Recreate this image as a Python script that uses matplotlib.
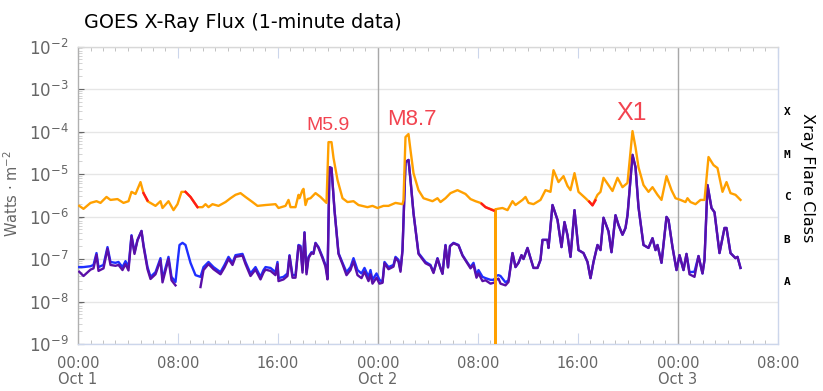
import numpy as np
import matplotlib.pyplot as plt
from matplotlib.ticker import LogLocator, MultipleLocator, NullFormatter

# hours since Oct 1 00:00 UTC, values are log10(W m^-2)
long_hours = [
    0.1, 0.44, 1.0, 1.48, 1.8, 2.28, 2.6, 3.16, 3.64, 4.04,
    4.28, 4.6, 5.0, 5.24, 5.56, 6.2, 6.6, 6.76, 7.24, 7.64,
    7.96, 8.28, 8.6, 9.0, 9.56, 9.96, 10.2, 10.44, 10.76, 11.24,
    11.8, 12.2, 12.6, 13.0, 13.4, 13.96, 14.36, 15.0, 15.8, 16.04,
    16.6, 16.84, 17.0, 17.4, 17.64, 17.72, 17.96, 18.04, 18.2, 18.36,
    18.6, 19.0, 19.4, 19.88, 20.04, 20.28, 20.44, 20.76, 21.16, 21.56,
    22.04, 22.44, 23.16, 23.56, 23.96, 24.44, 24.84, 25.4, 25.96, 26.04,
    26.2, 26.44, 26.6, 26.84, 27.24, 27.64, 28.36, 28.76, 29.0, 29.4,
    29.8, 30.36, 31.0, 31.4, 31.8, 32.2, 32.6, 33.24, 33.38, 33.4,
    33.42, 33.56, 33.96, 34.36, 34.76, 35.0, 35.56, 35.8, 36.04, 36.44,
    37.0, 37.4, 37.8, 38.04, 38.44, 38.84, 39.16, 39.4, 39.72, 40.04,
    40.6, 41.16, 41.56, 41.8, 42.04, 42.44, 42.76, 43.16, 43.56, 43.96,
    44.36, 44.6, 44.84, 45.24, 45.64, 45.96, 46.36, 46.68, 47.08, 47.48,
    47.8, 48.2, 48.6, 48.76, 49.0, 49.4, 49.8, 50.12, 50.44, 50.84,
    51.16, 51.56, 51.88, 52.2, 52.6, 53.0,
]
long_log = [
    -5.75, -5.82, -5.68, -5.64, -5.68, -5.54, -5.61, -5.59, -5.68, -5.64,
    -5.42, -5.47, -5.19, -5.45, -5.64, -5.75, -5.64, -5.80, -5.64, -5.85,
    -5.71, -5.42, -5.42, -5.54, -5.78, -5.78, -5.71, -5.78, -5.71, -5.75,
    -5.66, -5.57, -5.49, -5.45, -5.54, -5.66, -5.75, -5.73, -5.71, -5.80,
    -5.75, -5.61, -5.78, -5.78, -5.49, -5.57, -5.38, -5.35, -5.73, -5.59,
    -5.57, -5.45, -5.54, -5.68, -4.25, -4.25, -4.62, -5.14, -5.57, -5.66,
    -5.64, -5.73, -5.78, -5.75, -5.80, -5.75, -5.75, -5.68, -5.71, -5.61,
    -4.13, -4.06, -4.44, -4.98, -5.38, -5.57, -5.64, -5.57, -5.66, -5.57,
    -5.45, -5.38, -5.47, -5.59, -5.64, -5.68, -5.78, -5.85, -5.84, -11.0,
    -5.83, -5.82, -5.80, -5.85, -5.64, -5.73, -5.61, -5.54, -5.68, -5.71,
    -5.61, -5.38, -5.42, -4.91, -5.19, -5.05, -5.28, -5.38, -4.98, -5.42,
    -5.57, -5.73, -5.49, -5.42, -5.09, -5.26, -5.40, -5.09, -5.31, -5.21,
    -3.99, -4.37, -4.84, -5.26, -5.42, -5.31, -5.49, -5.61, -5.05, -5.38,
    -5.57, -5.61, -5.66, -5.57, -5.66, -5.71, -5.61, -5.61, -4.60, -4.79,
    -4.86, -5.42, -5.19, -5.45, -5.49, -5.61,
]

# secondary long channel, only where it shows (nan = hidden)
red_hours = [5.24, 5.56, np.nan, 8.6, 9.0, 9.56, np.nan, 32.3, 32.6, 33.24, np.nan, 40.9, 41.16, 41.4]
red_log = [-5.45, -5.62, np.nan, -5.42, -5.54, -5.78, np.nan, -5.70, -5.78, -5.86, np.nan, -5.65, -5.74, -5.62]

short_hours = [
    0.1, 0.44, 1.0, 1.24, 1.48, 1.64, 2.04, 2.36, 2.6, 3.0,
    3.24, 3.56, 3.8, 4.04, 4.28, 4.52, 4.76, 5.08, 5.24, 5.56,
    5.8, 6.2, 6.6, 6.76, 7.24, 7.48, 7.8, 7.96, 8.12, 8.36,
    8.6, 9.0, 9.4, 9.8, 10.04, 10.44, 10.84, 11.4, 11.72, 12.04,
    12.36, 12.6, 13.16, 13.4, 13.8, 14.2, 14.6, 14.84, 15.0, 15.4,
    15.8, 15.96, 16.04, 16.44, 16.76, 16.92, 17.16, 17.4, 17.64, 17.8,
    17.96, 18.12, 18.28, 18.44, 18.68, 18.84, 19.0, 19.24, 19.56, 19.8,
    19.96, 20.12, 20.28, 20.52, 20.84, 21.16, 21.48, 21.8, 22.04, 22.36,
    22.68, 22.92, 23.24, 23.4, 23.56, 23.88, 24.12, 24.36, 24.52, 24.84,
    25.24, 25.4, 25.64, 25.8, 25.96, 26.2, 26.44, 26.6, 26.84, 27.24,
    27.8, 28.2, 28.44, 28.76, 29.0, 29.16, 29.4, 29.6, 29.76, 30.04,
    30.44, 30.76, 31.16, 31.4, 31.64, 31.88, 32.04, 32.36, 32.6, 33.0,
    33.24, 33.38, 33.4, 33.42, 33.64, 33.8, 34.2, 34.44, 34.76, 35.0,
    35.24, 35.48, 35.64, 35.96, 36.2, 36.44, 36.76, 37.0, 37.16, 37.56,
    37.64, 37.96, 38.36, 38.68, 38.92, 39.16, 39.4, 39.72, 40.04, 40.44,
    40.76, 41.0, 41.24, 41.56, 41.8, 42.04, 42.44, 42.68, 43.0, 43.24,
    43.56, 43.8, 43.96, 44.36, 44.6, 44.84, 45.24, 45.64, 45.96, 46.2,
    46.36, 46.68, 47.08, 47.24, 47.56, 47.88, 48.12, 48.44, 48.68, 48.92,
    49.32, 49.64, 49.96, 50.12, 50.36, 50.68, 50.92, 51.32, 51.72, 51.88,
    52.2, 52.6, 52.76, 53.0,
]
blue_log = [
    -7.19, -7.19, -7.17, -7.14, -6.86, -7.19, -7.14, -6.72, -7.07, -7.09,
    -7.07, -7.19, -7.05, -7.19, -6.44, -6.84, -6.55, -6.34, -6.67, -7.19,
    -7.42, -7.31, -6.98, -7.47, -6.95, -7.42, -7.54, -7.09, -6.67, -6.62,
    -6.67, -7.09, -7.38, -7.42, -7.19, -7.07, -7.19, -7.31, -7.14, -6.95,
    -7.09, -6.91, -6.88, -7.07, -7.34, -7.19, -7.42, -7.26, -7.19, -7.21,
    -7.31, -7.07, -7.45, -7.42, -7.34, -6.91, -7.38, -7.38, -6.67, -6.69,
    -7.26, -6.37, -7.31, -6.95, -6.84, -6.86, -6.62, -6.72, -6.95, -7.14,
    -7.42, -4.84, -4.86, -5.85, -6.86, -7.09, -7.31, -7.19, -6.98, -7.26,
    -7.34, -7.21, -7.42, -7.26, -7.49, -7.34, -7.49, -7.54, -7.07, -7.19,
    -7.14, -6.95, -7.02, -7.26, -6.79, -4.72, -4.67, -5.14, -5.92, -6.86,
    -7.07, -7.14, -7.31, -6.98, -7.21, -7.34, -6.67, -7.19, -6.69, -6.62,
    -6.67, -6.91, -7.09, -7.19, -7.09, -7.38, -7.26, -7.42, -7.45, -7.49,
    -7.49, -7.45, -7.42, -7.40, -7.38, -7.40, -7.55, -7.50, -6.86, -7.19,
    -7.09, -6.91, -7.00, -6.74, -6.98, -7.21, -7.21, -7.02, -6.55, -6.55,
    -6.74, -5.73, -6.08, -6.72, -6.13, -6.44, -6.95, -5.85, -6.79, -6.86,
    -7.07, -7.45, -7.07, -6.67, -6.79, -6.03, -6.35, -6.84, -5.97, -6.20,
    -6.43, -6.27, -5.97, -4.55, -4.84, -5.78, -6.67, -6.74, -6.51, -6.79,
    -6.67, -7.09, -6.01, -6.08, -6.72, -7.26, -6.91, -7.26, -6.88, -7.31,
    -7.30, -6.93, -7.34, -7.02, -5.26, -5.80, -5.90, -6.86, -6.27, -6.27,
    -6.86, -6.98, -6.95, -7.21,
]
purple_log = [
    -7.30, -7.40, -7.25, -7.22, -6.90, -7.28, -7.22, -6.76, -7.14, -7.16,
    -7.14, -7.26, -7.12, -7.27, -6.46, -6.88, -6.56, -6.34, -6.70, -7.24,
    -7.47, -7.36, -7.03, -7.55, -7.00, -7.50, -7.62, np.nan, np.nan, np.nan,
    np.nan, np.nan, np.nan, -7.66, -7.26, -7.12, -7.24, -7.36, -7.20, -7.00,
    -7.14, -6.95, -6.92, -7.12, -7.40, -7.25, -7.48, -7.32, -7.25, -7.28,
    -7.38, -7.12, -7.52, -7.48, -7.40, -6.93, -7.44, -7.44, -6.69, -6.72,
    -7.32, -6.38, -7.36, -6.98, -6.86, -6.88, -6.63, -6.74, -6.98, -7.18,
    -7.48, -4.84, -4.86, -5.85, -6.88, -7.12, -7.38, -7.26, -7.05, -7.38,
    -7.45, -7.30, -7.52, -7.36, -7.58, -7.44, -7.58, -7.56, -7.10, -7.24,
    -7.18, -6.98, -7.06, -7.30, -6.80, -4.72, -4.67, -5.14, -5.92, -6.88,
    -7.10, -7.16, -7.33, -6.99, -7.22, -7.35, -6.68, -7.20, -6.70, -6.63,
    -6.68, -6.92, -7.11, -7.22, -7.14, -7.44, -7.34, -7.52, -7.50, -7.58,
    -7.56, -7.54, -8.48, -7.50, -7.46, -7.58, -7.62, -7.54, -6.86, -7.19,
    -7.09, -6.91, -7.00, -6.74, -6.98, -7.21, -7.21, -7.02, -6.55, -6.55,
    -6.74, -5.73, -6.08, -6.72, -6.13, -6.44, -6.95, -5.85, -6.79, -6.86,
    -7.07, -7.45, -7.07, -6.67, -6.79, -6.03, -6.35, -6.84, -5.97, -6.20,
    -6.43, -6.27, -5.97, -4.55, -4.84, -5.78, -6.67, -6.74, -6.51, -6.79,
    -6.67, -7.09, -6.01, -6.08, -6.72, -7.26, -6.91, -7.26, -6.88, -7.36,
    -7.42, -6.93, -7.34, -7.02, -5.26, -5.80, -5.90, -6.86, -6.27, -6.27,
    -6.86, -6.98, -6.95, -7.21,
]

flare_labels = ["M5.9", "M8.7", "X1"]
flare_hours = [20.0, 26.75, 44.3]
flare_pos = [1.4e-4, 1.9e-4, 2.7e-4]
flare_sizes = [14, 16, 18]

class_labels = ["A", "B", "C", "M", "X"]
class_pos = [10**-7.55, 10**-6.55, 10**-5.55, 10**-4.55, 10**-3.55]

tick_hours = [0, 8, 16, 24, 32, 40, 48, 56]
tick_labels = ["00:00\nOct 1", "08:00", "16:00", "00:00\nOct 2", "08:00", "16:00", "00:00\nOct 3", "08:00"]
day_lines = [24, 48]

fig = plt.figure(figsize=(8.23, 3.91), dpi=100)
ax = fig.add_axes([78 / 823, 1 - 344 / 391, 700 / 823, 297.5 / 391])

ax.plot(short_hours, 10 ** np.array(blue_log), color="#1f2fff", lw=1.7, zorder=3)
ax.plot(short_hours, 10 ** np.array(purple_log), color="#5a0fa8", lw=1.7, zorder=4)
ax.plot(long_hours, 10 ** np.array(long_log), color="#ffa000", lw=1.7, zorder=5)
ax.plot(red_hours, 10 ** np.array(red_log), color="#ff1a1a", lw=1.7, zorder=6)

ax.set_yscale("log")
ax.set_ylim(1e-9, 1e-2)
ax.set_xlim(0, 56)

for d in day_lines:
    ax.axvline(d, color="#a8a8a8", lw=1.0, zorder=2)
ax.yaxis.grid(True, which="major", color="#e6e6e6", lw=1.0, zorder=1)

ax.set_xticks(tick_hours)
ax.set_xticklabels(tick_labels)
ax.xaxis.set_minor_locator(MultipleLocator(1))
ax.yaxis.set_major_locator(LogLocator(base=10, numticks=10))
ax.yaxis.set_minor_locator(LogLocator(base=10, subs=np.arange(2, 10), numticks=10))
ax.yaxis.set_minor_formatter(NullFormatter())

ax.tick_params(axis="x", which="major", direction="in", length=8, color="#ccd6eb",
               labelsize=10.5, labelcolor="#666666", pad=9, top=True)
ax.tick_params(axis="x", which="minor", direction="in", length=3, color="#b8b8b8", top=True)
ax.tick_params(axis="y", which="major", direction="in", length=4, color="#666666",
               labelsize=12, labelcolor="#666666", pad=7)
ax.tick_params(axis="y", which="minor", direction="in", length=3, color="#cccccc")
for lab in ax.get_xticklabels():
    lab.set_linespacing(1.08)

ax.spines["left"].set_color("#b0b0b0")
ax.spines["bottom"].set_color("#ccd6eb")
ax.spines["right"].set_color("#ccd6eb")
ax.spines["top"].set_color("#d8d8d8")
for s in ax.spines.values():
    s.set_linewidth(1.0)

for lab, h, v, fs in zip(flare_labels, flare_hours, flare_pos, flare_sizes):
    ax.text(h, v, lab, color="#f24450", fontsize=fs, family="Liberation Sans",
            ha="center", va="center", zorder=7)

trans = ax.get_yaxis_transform()
for lab, v in zip(class_labels, class_pos):
    ax.text(1.0129, v, lab, transform=trans, fontsize=8, family="DejaVu Sans Mono",
            fontweight="bold", ha="center", va="center", color="black")

fig.text(807 / 823, 1 - 178 / 391, "Xray Flare Class", rotation=270, fontsize=11.5,
         ha="center", va="center", color="black")
fig.text(12 / 823, 1 - 194 / 391, "Watts \u00b7 m$^{-2}$", rotation=90, fontsize=10.5,
         ha="center", va="center", color="#666666")
fig.text(84 / 823, 1 - 22 / 391, "GOES X-Ray Flux (1-minute data)", fontsize=13.8,
         ha="left", va="center", color="black")

fig.savefig("out.png", dpi=100)
